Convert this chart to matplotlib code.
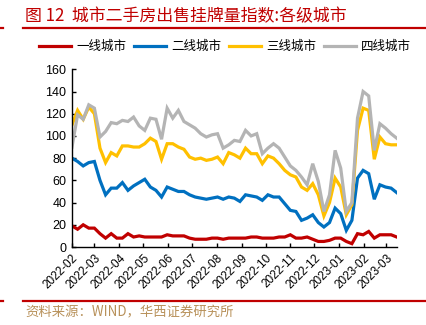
import matplotlib
matplotlib.use('Agg')
import matplotlib.pyplot as plt
import matplotlib.dates as mdates
import pandas as pd

plt.rcParams['font.family'] = ['Liberation Sans', 'Noto Sans CJK SC']

# weekly listing index, first-tier to fourth-tier cities
dates = pd.date_range('2022-02-01', periods=59, freq='7D')
tier1 = [19, 16, 20, 17, 17, 12, 8, 12, 8, 8, 12, 9, 10, 9, 9, 9, 9, 11, 10, 10,
         10, 8, 7, 7, 7, 8, 8, 7, 8, 8, 8, 8, 9, 9, 8, 8, 8, 9, 9, 11,
         8, 8, 9, 7, 5, 5, 6, 8, 8, 5, 3, 12, 11, 14, 8, 11, 11, 11, 9]
tier2 = [80, 77, 73, 76, 77, 60, 47, 53, 53, 58, 51, 55, 58, 61, 54, 51, 45, 54, 52, 50,
         50, 47, 45, 44, 43, 44, 45, 43, 45, 44, 41, 47, 46, 45, 42, 47, 45, 45, 39, 33,
         32, 24, 26, 29, 22, 18, 22, 35, 30, 15, 24, 62, 69, 66, 43, 56, 54, 53, 49]
tier3 = [110, 123, 115, 126, 120, 89, 76, 85, 82, 91, 91, 90, 90, 93, 98, 95, 79, 93, 93, 90,
         88, 81, 79, 80, 78, 79, 81, 75, 85, 83, 80, 89, 84, 84, 75, 82, 80, 75, 69, 65,
         63, 54, 51, 57, 47, 28, 40, 62, 54, 29, 38, 105, 125, 123, 79, 99, 93, 92, 92]
tier4 = [90, 119, 115, 128, 125, 99, 104, 112, 111, 114, 113, 117, 109, 105, 116, 115, 97, 125, 116, 123,
         113, 110, 107, 102, 99, 101, 102, 89, 92, 96, 95, 105, 100, 102, 84, 89, 93, 89, 81, 73,
         69, 63, 56, 75, 59, 32, 47, 87, 71, 32, 40, 116, 140, 136, 87, 111, 107, 102, 98]

series = [
    ('一线城市', tier1, '#C00000'),
    ('二线城市', tier2, '#0070C0'),
    ('三线城市', tier3, '#FFC000'),
    ('四线城市', tier4, '#B4B4B4'),
]

fig = plt.figure(figsize=(4.27, 3.25), dpi=100)
ax = fig.add_axes([0.1686, 0.24, 0.7604, 0.5468])

for name, vals, color in series:
    ax.plot(dates, vals, color=color, lw=2.3, label=name, solid_joinstyle='miter')

ax.set_xlim(dates[0], dates[-1])
ax.set_ylim(0, 160)
ax.set_yticks(range(0, 161, 20))
ax.xaxis.set_major_locator(mdates.MonthLocator())
ax.xaxis.set_major_formatter(mdates.DateFormatter('%Y-%m'))
for s in ['top', 'right']:
    ax.spines[s].set_visible(False)
for s in ['left', 'bottom']:
    ax.spines[s].set_linewidth(1.0)
ax.tick_params(direction='in', length=3, width=1.0, labelsize=9)
ax.tick_params(axis='y', pad=4)
for lbl in ax.get_xticklabels():
    lbl.set_rotation(45)
    lbl.set_ha('right')
    lbl.set_rotation_mode('anchor')
    lbl.set_fontsize(8.5)

fig.legend(loc='center', bbox_to_anchor=(0.527, 1 - 47 / 325), ncol=4, frameon=False,
           fontsize=9, handlelength=2.6, handletextpad=0.4, columnspacing=0.6)

# header and footer rules
red = '#C00000'
fig.text(25 / 427, 1 - 16 / 325, '图 12  城市二手房出售挂牌量指数:各级城市', color=red,
         fontsize=12.2, ha='left', va='center', family=['Noto Sans CJK SC', 'DejaVu Sans'])
for y in [1 - 28 / 325, 1 - 301 / 325]:
    fig.add_artist(plt.Line2D([23 / 427, 1], [y, y], color=red, lw=1.6))
    fig.add_artist(plt.Line2D([0, 3 / 427], [y, y], color=red, lw=1.6))
fig.text(25 / 427, 1 - 312 / 325, '资料来源：WIND，华西证券研究所', color='#B8915A',
         fontsize=9.6, ha='left', va='center', family=['Noto Sans CJK SC', 'DejaVu Sans'])

fig.savefig('out.png', dpi=100)
